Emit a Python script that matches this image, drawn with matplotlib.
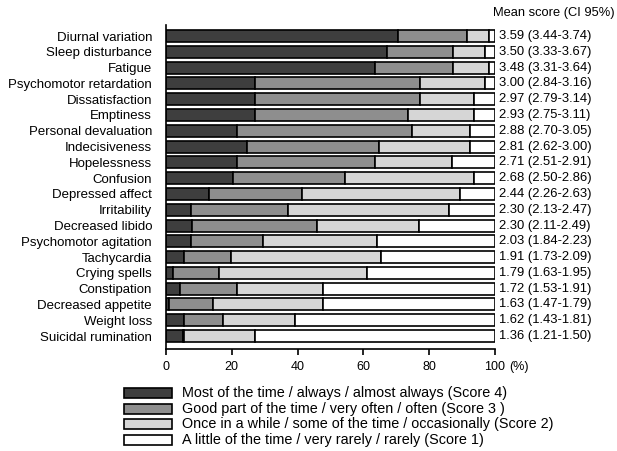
import matplotlib
matplotlib.use("Agg")
import matplotlib.pyplot as plt
from matplotlib.patches import Rectangle
import numpy as np

plt.rcParams['font.family'] = ['Liberation Sans', 'DejaVu Sans']

symptoms = ["Diurnal variation", "Sleep disturbance", "Fatigue", "Psychomotor retardation",
            "Dissatisfaction", "Emptiness", "Personal devaluation", "Indecisiveness",
            "Hopelessness", "Confusion", "Depressed affect", "Irritability",
            "Decreased libido", "Psychomotor agitation", "Tachycardia", "Crying spells",
            "Constipation", "Decreased appetite", "Weight loss", "Suicidal rumination"]

# Percentages per score
score4 = [70.6, 67.1, 63.5, 27.1, 27.1, 27.1, 21.7, 24.7, 21.5, 20.3,
          13.2, 7.6, 7.8, 7.5, 5.5, 2.0, 4.3, 1.0, 5.5, 5.1]
score3 = [20.8, 20.2, 23.8, 50.1, 50.1, 46.6, 53.0, 40.1, 42.0, 34.2,
          28.3, 29.6, 38.0, 21.9, 14.3, 14.2, 17.4, 13.4, 11.9, 0.5]
score2 = [6.9, 9.7, 11.0, 19.8, 16.4, 19.9, 17.7, 27.6, 23.4, 39.1,
          47.9, 48.9, 31.2, 34.8, 45.5, 44.8, 26.1, 33.4, 21.8, 21.5]
score1 = [100 - a - b - c for a, b, c in zip(score4, score3, score2)]

mean_ci = ["3.59 (3.44-3.74)", "3.50 (3.33-3.67)", "3.48 (3.31-3.64)", "3.00 (2.84-3.16)",
           "2.97 (2.79-3.14)", "2.93 (2.75-3.11)", "2.88 (2.70-3.05)", "2.81 (2.62-3.00)",
           "2.71 (2.51-2.91)", "2.68 (2.50-2.86)", "2.44 (2.26-2.63)", "2.30 (2.13-2.47)",
           "2.30 (2.11-2.49)", "2.03 (1.84-2.23)", "1.91 (1.73-2.09)", "1.79 (1.63-1.95)",
           "1.72 (1.53-1.91)", "1.63 (1.47-1.79)", "1.62 (1.43-1.81)", "1.36 (1.21-1.50)"]

legend_labels = ["Most of the time / always / almost always (Score 4)",
                 "Good part of the time / very often / often (Score 3 )",
                 "Once in a while / some of the time / occasionally (Score 2)",
                 "A little of the time / very rarely / rarely (Score 1)"]

xticks = [0, 20, 40, 60, 80, 100]

colors = ["#3e3e3e", "#8e8e8e", "#d6d6d6", "#ffffff"]

fig = plt.figure(figsize=(6.17, 4.51), dpi=100)
ax = fig.add_axes([0.269, 0.2262, 0.533, 0.7184])

y = np.arange(len(symptoms))
left = np.zeros(len(symptoms))
for vals, c in zip([score4, score3, score2, score1], colors):
    ax.barh(y, vals, left=left, height=0.76, color=c, edgecolor="black", linewidth=1.2)
    left = left + np.array(vals)

ax.set_ylim(len(symptoms) - 1 + 0.82, -0.7)
ax.set_xlim(0, 100)
ax.set_yticks(y)
ax.set_yticklabels(symptoms, fontsize=9.5)
ax.tick_params(axis='y', length=0, pad=10)
ax.set_xticks(xticks)
ax.set_xticklabels([str(t) for t in xticks], fontsize=9)
ax.tick_params(axis='x', length=4, width=1.2, pad=5)
for s in ["top", "right"]:
    ax.spines[s].set_visible(False)
ax.spines["left"].set_linewidth(1.2)
ax.spines["bottom"].set_linewidth(1.2)

ax.annotate("(%)", xy=(1, 0), xycoords="axes fraction", xytext=(10.5, -9),
            textcoords="offset points", fontsize=9, ha="left", va="top")

for yi, s in zip(y, mean_ci):
    ax.text(101.2, yi, s, fontsize=9.4, ha="left", va="center", clip_on=False)
ax.text(99.4, -1.45, "Mean score (CI 95%)", fontsize=9.3, ha="left", va="center", clip_on=False)

# legend
W, H = 617, 451
for i, (lab, c) in enumerate(zip(legend_labels, colors)):
    yc = 393 + i * 15.6
    fig.patches.append(Rectangle((124 / W, 1 - (yc + 5) / H), 48 / W, 10 / H,
                                 transform=fig.transFigure, facecolor=c,
                                 edgecolor="black", linewidth=1.2))
    fig.text(182 / W, 1 - yc / H, lab, fontsize=10.4, ha="left", va="center")

fig.savefig("out.png", dpi=100)
